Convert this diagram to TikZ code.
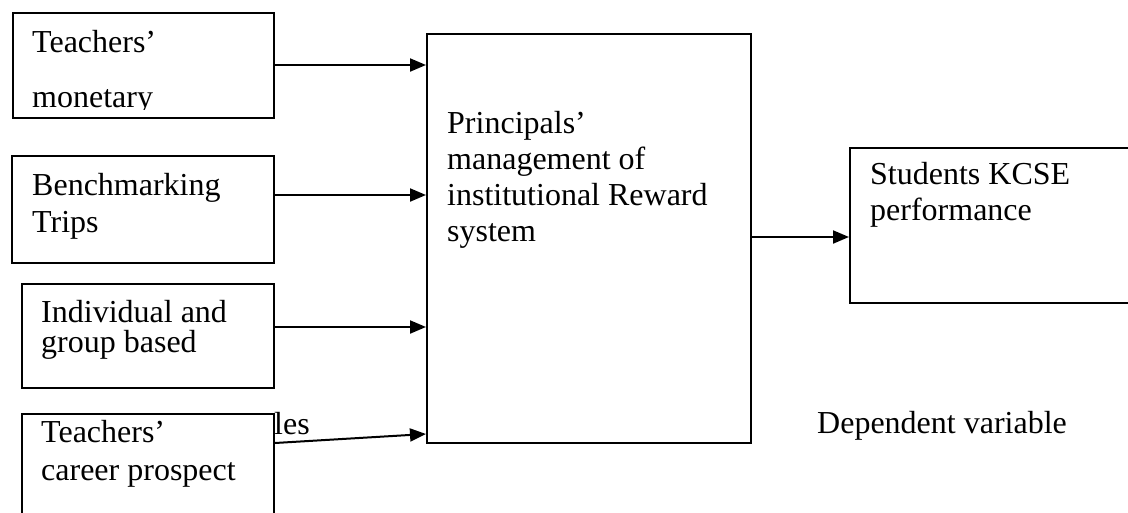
\documentclass[tikz,border=0pt]{standalone}
\usepackage{fontspec}
\setmainfont{Liberation Serif}
\usetikzlibrary{arrows.meta}
\begin{document}
\begin{tikzpicture}[x=1pt,y=-1pt,
  box/.style={draw,line width=2pt,inner sep=0pt,anchor=north west},
  lbl/.style={anchor=base west,inner sep=0pt,font=\fontsize{32}{36}\selectfont},
  arr/.style={line width=2pt,-{Triangle[length=16pt,width=13pt]}}]
\clip (0,0) rectangle (1128,512);
\fill[white] (0,0) rectangle (1128,512);

% independent variable boxes
\node[box,minimum width=261pt,minimum height=105pt] (b1) at (12,12) {};
\node[box,minimum width=262pt,minimum height=107pt] (b2) at (11,155) {};
\node[box,minimum width=252pt,minimum height=104pt] (b3) at (21,283) {};
\node[box,minimum width=252pt,minimum height=130pt] (b4) at (21,413) {};

% central and outcome boxes
\node[box,minimum width=324pt,minimum height=409pt] (main) at (426,33) {};
\node[box,minimum width=300pt,minimum height=155pt] (out) at (849,147) {};

% box texts
\node[lbl] (t1a) at (32,52) {Teachers’};
\begin{scope}
  \clip (b1.north west) rectangle ([yshift=10pt]b1.south east);
  \node[lbl] (t1b) at (32,107) {monetary};
\end{scope}
\node[lbl] (t2a) at (32,195) {Benchmarking};
\node[lbl] (t2b) at (32,232) {Trips};
\node[lbl] (t3a) at (41,322) {Individual and};
\node[lbl] (t3b) at (41,352) {group based};
\node[lbl] (t4a) at (41,442) {Teachers’};
\node[lbl] (t4b) at (41,480) {career prospect};
\node[lbl] (m1) at (447,133) {Principals’};
\node[lbl] (m2) at (447,169) {management of};
\node[lbl] (m3) at (447,205) {institutional Reward};
\node[lbl] (m4) at (447,241) {system};
\node[lbl] (s1) at (870,184) {Students KCSE};
\node[lbl] (s2) at (870,220) {performance};

% free labels
\node[lbl] (les) at (274,434) {les};
\node[lbl] (dep) at (817,433) {Dependent variable};

% connectors
\draw[arr] (b1.east|-0,65) -- (main.west|-0,65);
\draw[arr] (b2.east|-0,195) -- (main.west|-0,195);
\draw[arr] (b3.east|-0,327) -- (main.west|-0,327);
\draw[arr] (b4.east|-0,443) -- (main.west|-0,434);
\draw[arr] (main.east|-0,237) -- (out.west|-0,237);
\end{tikzpicture}
\end{document}
